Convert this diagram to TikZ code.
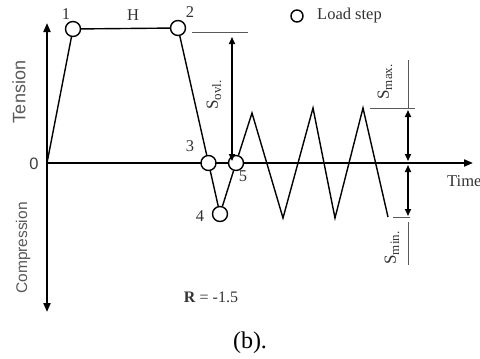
\documentclass[tikz,border=0pt]{standalone}
\usepackage{fontspec}
\setmainfont{Liberation Serif}
\newfontfamily\arialf{Liberation Sans}
\usetikzlibrary{arrows.meta}
\tikzset{
  axisline/.style={line width=2pt},
  trace/.style={line width=1.4pt, line join=miter},
  ldstep/.style={circle, draw, line width=1.4pt, fill=white, minimum size=15pt, inner sep=0pt},
  dimarrow/.style={line width=1.6pt, {Triangle[length=7pt,width=6pt]}-{Triangle[length=7pt,width=6pt]}},
  refline/.style={line width=0.8pt, black!65},
  lbl/.style={text=black!80, inner sep=0pt, font=\fontsize{16.5}{16.5}\selectfont},
  sublbl/.style={text=black!80, inner sep=0pt, rotate=90, font=\fontsize{17}{17}\selectfont},
}
\newcommand{\subS}[1]{S\raisebox{-0.2em}{\fontsize{13}{13}\selectfont #1}}
\begin{document}
\begin{tikzpicture}[x=1pt,y=-1pt]
\useasboundingbox[fill=white] (0,0) rectangle (480,359);
% axes
\coordinate (o) at (47,163);
\coordinate (ytop) at (47,23);
\coordinate (ybot) at (47,312);
\coordinate (xend) at (473,163);
\draw[axisline, {Triangle[length=9pt,width=7pt]}-{Triangle[length=9pt,width=7pt]}] (ybot) -- (ytop);
\draw[axisline, -{Triangle[length=9pt,width=7pt]}] (o) -- (xend);
% load steps
\node[ldstep] (c1) at (73,29) {};
\node[ldstep] (c2) at (178,28) {};
\node[ldstep] (c3) at (208.5,163) {};
\node[ldstep] (c4) at (220,214) {};
\node[ldstep] (c5) at (236,163) {};
\coordinate (p1) at (252,113);
\coordinate (t1) at (283,218);
\coordinate (p2) at (313,108);
\coordinate (t2) at (335,218);
\coordinate (p3) at (363,108);
\coordinate (e) at (388,217);
\draw[trace] (o) -- (c1) -- (c2) -- (c3) -- (c4) -- (c5) -- (p1) -- (t1) -- (p2) -- (t2) -- (p3) -- (e);
% labels of steps
\node[lbl] (l1) at (66,14) {1};
\node[lbl] (l2) at (190,12) {2};
\node[lbl] (lH) at (133,15) {H};
\node[lbl] (l3) at (190,146) {3};
\node[lbl] (l4) at (200,216) {4};
\node[lbl] (l5) at (243,176) {5};
\node[text=black!75, inner sep=0pt, font=\arialf\fontsize{16.5}{16.5}\selectfont] (l0) at (34,164) {0};
% legend
\node[ldstep, minimum size=12pt] (leg) at (297,16) {};
\node[lbl, anchor=west] (legt) at (317,16) {Load step};
% axis titles
\node[text=black!65, rotate=90, font=\arialf\fontsize{18}{18}\selectfont] (ten) at (19,92) {Tension};
\node[text=black!65, rotate=90, font=\arialf\fontsize{15.5}{15.5}\selectfont] (comp) at (23,248) {Compression};
\node[lbl, anchor=west] (time) at (447,181) {Time};
% S ovl
\coordinate (ov1) at (192,32);
\coordinate (ov2) at (248,32);
\draw[refline] (ov1) -- (ov2);
\coordinate (ova) at (232,37);
\coordinate (ovb) at (232,161);
\draw[dimarrow] (ova) -- (ovb);
\node[sublbl] (sovl) at (214,95) {\subS{ovl.}};
% S max
\coordinate (mx1) at (408,60);
\coordinate (mx2) at (408,108);
\coordinate (mx3) at (370,108);
\coordinate (mx4) at (415,108);
\draw[refline] (mx1) -- (mx2);
\draw[refline] (mx3) -- (mx4);
\coordinate (mxa) at (408,110);
\coordinate (mxb) at (408,161);
\draw[dimarrow] (mxa) -- (mxb);
\node[sublbl] (smax) at (385,82) {\subS{max.}};
% S min
\coordinate (mn1) at (393,217);
\coordinate (mn2) at (410,217);
\coordinate (mn3) at (408,222);
\coordinate (mn4) at (408,265);
\draw[refline] (mn1) -- (mn2);
\draw[refline] (mn3) -- (mn4);
\coordinate (mna) at (408,165);
\coordinate (mnb) at (408,216);
\draw[dimarrow] (mna) -- (mnb);
\node[sublbl] (smin) at (392,248) {\subS{min.}};
% R and caption
\node[text=black!80, inner sep=0pt, font=\fontsize{16}{16}\selectfont] (R) at (211,297) {\textbf{R} = -1.5};
\node[inner sep=0pt, font=\fontsize{24}{24}\selectfont] (cap) at (250,343) {(b).};
\end{tikzpicture}
\end{document}
